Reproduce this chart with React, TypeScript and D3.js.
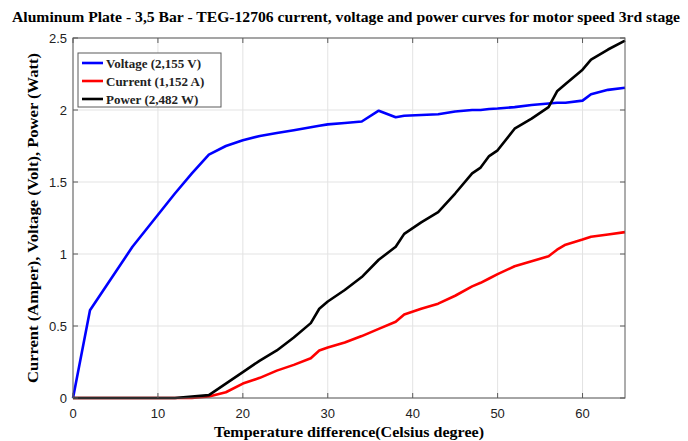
import React from 'react';
import * as d3 from 'd3';

// temperature difference samples (Celsius)
const temps = [0, 2, 7, 12, 14, 16, 18, 20, 22, 24, 26, 28, 29, 30, 32, 34, 36, 38, 39, 41, 43, 45, 47, 48, 49, 50, 52, 54, 56, 57, 58, 60, 61, 63, 65];

const voltage = [0, 0.61, 1.05, 1.42, 1.56, 1.69, 1.75, 1.79, 1.82, 1.84, 1.86, 1.88, 1.89, 1.9, 1.91, 1.92, 1.995, 1.95, 1.96, 1.965, 1.97, 1.99, 2.0, 2.0, 2.007, 2.01, 2.02, 2.035, 2.045, 2.05, 2.05, 2.065, 2.11, 2.14, 2.155];
const current = [0, 0, 0, 0, 0, 0.01, 0.04, 0.1, 0.14, 0.19, 0.23, 0.276, 0.33, 0.35, 0.385, 0.43, 0.48, 0.53, 0.58, 0.62, 0.655, 0.71, 0.775, 0.8, 0.83, 0.86, 0.915, 0.95, 0.985, 1.03, 1.065, 1.1, 1.12, 1.135, 1.152];
const power = [0, 0, 0, 0, 0.01, 0.02, 0.1, 0.18, 0.26, 0.33, 0.42, 0.52, 0.62, 0.67, 0.75, 0.84, 0.96, 1.05, 1.14, 1.22, 1.29, 1.42, 1.56, 1.6, 1.68, 1.72, 1.87, 1.94, 2.02, 2.13, 2.18, 2.28, 2.35, 2.42, 2.482];

const xTicks = [0, 10, 20, 30, 40, 50, 60];
const yTicks = [0, 0.5, 1, 1.5, 2, 2.5];

const series = [
  { name: 'Voltage (2,155 V)', values: voltage, color: '#0000ff' },
  { name: 'Current (1,152 A)', values: current, color: '#ff0000' },
  { name: 'Power (2,482 W)', values: power, color: '#000000' },
];

const W = 688;
const H = 441;
const left = 73, right = 625, top = 38, bottom = 398;
const serif = '"Liberation Serif", "Times New Roman", serif';
const sans = '"Liberation Sans", Arial, sans-serif';

export default function App() {
  const x = d3.scaleLinear().domain([0, 65]).range([left, right]);
  const y = d3.scaleLinear().domain([0, 2.5]).range([bottom, top]);

  const line = (vals: number[]) =>
    d3.line<number>()
      .x((_, i) => x(temps[i]))
      .y(d => y(d))(vals) || '';

  return (
    <svg width={W} height={H} style={{ position: 'absolute', left: 0, top: 0, background: '#fff' }}>
      <text x={346} y={22} textAnchor="middle" fontFamily={serif} fontWeight="bold" fontSize={15}
        textLength={668} lengthAdjust="spacingAndGlyphs">
        Aluminum Plate - 3,5 Bar - TEG-12706 current, voltage and power curves for motor speed 3rd stage
      </text>

      {/* grid */}
      {xTicks.map(t => (
        <line key={'gx' + t} x1={x(t)} x2={x(t)} y1={top} y2={bottom} stroke="#e3e3e3" strokeWidth={1} />
      ))}
      {yTicks.map(t => (
        <line key={'gy' + t} x1={left} x2={right} y1={y(t)} y2={y(t)} stroke="#e3e3e3" strokeWidth={1} />
      ))}

      {/* curves */}
      {series.map(s => (
        <path key={s.name} d={line(s.values)} fill="none" stroke={s.color} strokeWidth={2.6} strokeLinejoin="round" />
      ))}

      {/* frame and inward ticks */}
      <rect x={left} y={top} width={right - left} height={bottom - top} fill="none" stroke="#5a5a5a" strokeWidth={1} />
      {xTicks.map(t => (
        <g key={'tx' + t}>
          <line x1={x(t)} x2={x(t)} y1={bottom} y2={bottom - 5} stroke="#5a5a5a" />
          <line x1={x(t)} x2={x(t)} y1={top} y2={top + 5} stroke="#5a5a5a" />
          <text x={x(t)} y={418} textAnchor="middle" fontFamily={sans} fontSize={13} fill="#222">{t}</text>
        </g>
      ))}
      {yTicks.map(t => (
        <g key={'ty' + t}>
          <line x1={left} x2={left + 5} y1={y(t)} y2={y(t)} stroke="#5a5a5a" />
          <line x1={right} x2={right - 5} y1={y(t)} y2={y(t)} stroke="#5a5a5a" />
          <text x={67} y={y(t) + 4.5} textAnchor="end" fontFamily={sans} fontSize={13} fill="#222">{t}</text>
        </g>
      ))}

      {/* axis labels */}
      <text x={349} y={437} textAnchor="middle" fontFamily={serif} fontWeight="bold" fontSize={14}
        textLength={270} lengthAdjust="spacingAndGlyphs">
        Temperature difference(Celsius degree)
      </text>
      <text transform="translate(38,218) rotate(-90)" textAnchor="middle" fontFamily={serif} fontWeight="bold" fontSize={14}
        textLength={330} lengthAdjust="spacingAndGlyphs">
        Current (Amper), Voltage (Volt), Power (Watt)
      </text>

      {/* legend */}
      <rect x={78} y={53} width={143} height={54} fill="#fff" stroke="#5a5a5a" strokeWidth={1} />
      {series.map((s, i) => (
        <g key={'lg' + s.name} transform={`translate(0, ${63 + i * 18})`}>
          <line x1={82} x2={103} y1={0} y2={0} stroke={s.color} strokeWidth={2.6} />
          <text x={106} y={4.5} fontFamily={serif} fontWeight="bold" fontSize={13} fill="#222">{s.name}</text>
        </g>
      ))}
    </svg>
  );
}
